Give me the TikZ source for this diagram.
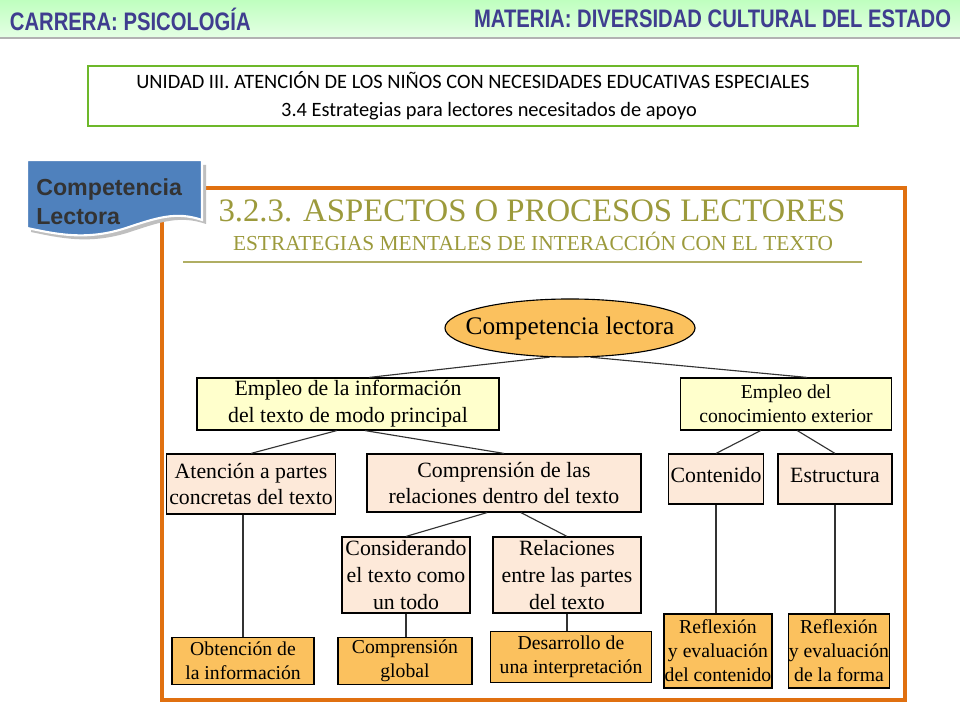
\documentclass[tikz,border=0pt]{standalone}
\usepackage{fontspec}
\setmainfont{Liberation Serif}
\newfontfamily\hdfont{Liberation Sans}
\newfontfamily\calfont{Carlito}
\usepackage{xcolor}
\usetikzlibrary{positioning,shapes.geometric}
\definecolor{hdtext}{HTML}{3F3D8F}
\definecolor{olive}{HTML}{9C9A3C}
\definecolor{frame}{HTML}{E07010}
\definecolor{lyellow}{HTML}{FFFFCC}
\definecolor{peach}{HTML}{FDE9D9}
\definecolor{gold}{HTML}{FBC15E}
\definecolor{tagblue}{HTML}{4F81BD}
\tikzset{
  box/.style={draw, thick, align=center, inner sep=0pt, font=\fontsize{15.5}{19}\selectfont},
  infobox/.style={box, fill=lyellow},
  midbox/.style={box, fill=peach},
  leafbox/.style={box, fill=gold, font=\fontsize{14}{17}\selectfont},
  onerow/.style={text height=1.6ex, text depth=.4ex},
  link/.style={thick, black!80}
}
\begin{document}
\begin{tikzpicture}[x=0.025cm, y=-0.025cm]
\useasboundingbox (0,0) rectangle (960,720);
\fill[white] (0,0) rectangle (960,720);
% header
\shade[top color=green!25, bottom color=green!10!white] (0,0) rectangle (960,38);
\draw[gray!60, line width=1.5pt] (0,38) -- (960,38);
\node[anchor=west, text=hdtext, xscale=0.8, font=\hdfont\bfseries\fontsize{18}{20}\selectfont] (carrera) at (6,19) {CARRERA: PSICOLOGÍA};
\node[anchor=east, text=hdtext, xscale=0.8, font=\hdfont\bfseries\fontsize{18}{20}\selectfont] (materia) at (955,19) {MATERIA: DIVERSIDAD CULTURAL DEL ESTADO};
% unit box
\node[draw=olive!70!green, line width=1.5pt, minimum width=19.25cm, minimum height=1.5cm, align=center,
  font=\calfont\fontsize{14.5}{20}\selectfont] (unidad) at (473,96)
  {UNIDAD III. ATENCIÓN DE LOS NIÑOS CON NECESIDADES EDUCATIVAS ESPECIALES\\
   \hspace*{0.8cm}3.4 Estrategias para lectores necesitados de apoyo};
% frame and titles
\draw[frame, line width=2.5pt] (162,188) rectangle (905,700);
\node[text=olive, font=\fontsize{23.3}{26}\selectfont] (titulo) at (532,211) {3.2.3. ASPECTOS O PROCESOS LECTORES};
\node[text=olive, font=\fontsize{15.2}{18}\selectfont] (subtitulo) at (533,241) {ESTRATEGIAS MENTALES DE INTERACCIÓN CON EL TEXTO};
\draw[olive!80, thick] (183,262) -- (862,262);
% blue tag
\fill[black!25] (31,165) -- (206,165) -- (206,224) .. controls (180,215) and (160,222) .. (130,232) .. controls (90,245) and (60,238) .. (31,232) -- cycle;
\fill[tagblue, draw=white, line width=1.5pt] (27,160) -- (202,160) -- (202,220) .. controls (176,211) and (156,218) .. (126,228) .. controls (86,241) and (56,234) .. (27,228) -- cycle;
\node[anchor=north west, align=left, text=black!80, inner sep=0pt, font=\hdfont\bfseries\fontsize{16.5}{21}\selectfont] (tag) at (36,178) {Competencia\\Lectora};
% tree
\node[draw, thick, ellipse, fill=gold, inner xsep=-12pt, inner ysep=0pt, minimum width=6.25cm, minimum height=1.45cm, font=\fontsize{18}{20}\selectfont] (comp) at (570,328) {Competencia lectora};
\node[infobox, minimum width=7.55cm, minimum height=1.3cm] (info) at (348,404) {Empleo de la información\\del texto de modo principal};
\node[infobox, minimum width=5.28cm, minimum height=1.3cm, font=\fontsize{14}{17}\selectfont] (exterior) at (786,404) {Empleo del\\conocimiento exterior};
\node[midbox, minimum width=4.23cm, minimum height=1.5cm] (atencion) at (251,484) {Atención a partes\\concretas del texto};
\node[midbox, minimum width=6.85cm, minimum height=1.45cm] (relaciones) at (504,483) {Comprensión de las\\relaciones dentro del texto};
\node[midbox, onerow, minimum width=2.38cm, minimum height=1.25cm] (contenido) at (716,479) {Contenido};
\node[midbox, onerow, minimum width=2.85cm, minimum height=1.25cm] (estructura) at (835,479) {Estructura};
\node[midbox, minimum width=3.2cm, minimum height=1.9cm] (todo) at (406,575) {Considerando\\el texto como\\un todo};
\node[midbox, minimum width=3.7cm, minimum height=1.9cm] (partes) at (567,575) {Relaciones\\entre las partes\\del texto};
\node[leafbox, minimum width=3.55cm, minimum height=1.18cm] (obtencion) at (243,661) {Obtención de\\la información};
\node[leafbox, minimum width=3.35cm, minimum height=1.18cm] (global) at (405,661) {Comprensión\\global};
\node[leafbox, minimum width=4.03cm, minimum height=1.28cm] (interpretacion) at (571,657) {Desarrollo de\\una interpretación};
\node[leafbox, minimum width=2.7cm, minimum height=1.85cm] (refcont) at (718,651) {Reflexión\\y evaluación\\del contenido};
\node[leafbox, minimum width=2.53cm, minimum height=1.85cm] (refforma) at (839,651) {Reflexión\\y evaluación\\de la forma};
% links
\draw[link] (comp.235) -- ([xshift=15pt]info.north);
\draw[link] (comp.305) -- ([xshift=15pt]exterior.north);
\draw[link] ([xshift=-8pt]info.south) -- (atencion.north);
\draw[link] ([xshift=12pt]info.south) -- (relaciones.north);
\draw[link] ([xshift=-18pt]exterior.south) -- (contenido.north);
\draw[link] ([xshift=8pt]exterior.south) -- (estructura.north);
\draw[link] ([xshift=-12pt]relaciones.south) -- (todo.north);
\draw[link] ([xshift=12pt]relaciones.south) -- (partes.north);
\draw[link] (atencion.south -| obtencion.north) -- (obtencion.north);
\draw[link] (todo.south) -- (todo.south |- global.north);
\draw[link] (partes.south) -- (partes.south |- interpretacion.north);
\draw[link] (contenido.south) -- (contenido.south |- refcont.north);
\draw[link] (estructura.south) -- (estructura.south |- refforma.north);
\end{tikzpicture}
\end{document}
